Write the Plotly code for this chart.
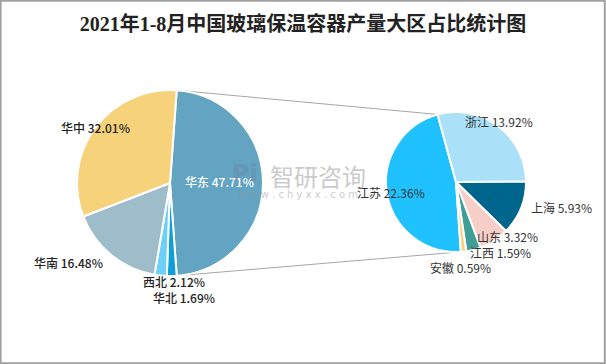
import math
import plotly.graph_objects as go

W, H = 606, 364

title = "2021年1-8月中国玻璃保温容器产量大区占比统计图"

main_labels = ["华东", "华北", "西北", "华南", "华中"]
main_values = [47.71, 1.69, 2.12, 16.48, 32.01]
main_colors = ["#62A4C2", "#0E9FD9", "#6DD0F7", "#9EBCCA", "#F6D27B"]

sub_labels = ["江苏", "浙江", "上海", "山东", "江西", "安徽"]
sub_values = [22.36, 13.92, 5.93, 3.32, 1.59, 0.59]
sub_colors = ["#1FC2FE", "#AAE1F9", "#00658C", "#F7CFC8", "#3F9E97", "#F7D27C"]

# pie geometry in pixels (center x, center y, radius)
L_CX, L_CY, L_R = 170, 183, 93
R_CX, R_CY, R_R = 456, 182, 70

total = sum(main_values)
rot_main = 90 - main_values[0] / total * 180
rot_sub = 176


def dom(cx, cy, r):
    return dict(x=[(cx - r) / W, (cx + r) / W], y=[1 - (cy + r) / H, 1 - (cy - r) / H])


fig = go.Figure()
fig.add_trace(go.Pie(
    labels=main_labels, values=main_values, sort=False, direction="clockwise",
    rotation=rot_main, textinfo="none", hoverinfo="label+percent",
    marker=dict(colors=main_colors, line=dict(color="white", width=2)),
    domain=dom(L_CX, L_CY, L_R), showlegend=False,
))
fig.add_trace(go.Pie(
    labels=sub_labels, values=sub_values, sort=False, direction="clockwise",
    rotation=rot_sub, textinfo="none", hoverinfo="label+value",
    marker=dict(colors=sub_colors, line=dict(color="white", width=2)),
    domain=dom(R_CX, R_CY, R_R), showlegend=False,
))


def pt(cx, cy, r, ang):
    a = math.radians(ang)
    return cx + r * math.sin(a), cy - r * math.cos(a)


# connector lines
l_top = pt(L_CX, L_CY, L_R, rot_main)
l_bot = pt(L_CX, L_CY, L_R, rot_main + main_values[0] / total * 360)
sub_total = sum(sub_values)
r_bot = pt(R_CX, R_CY, R_R, rot_sub)
r_top = pt(R_CX, R_CY, R_R, rot_sub + sub_values[0] / sub_total * 360)

shapes = []
for a, b in [(l_top, r_top), (l_bot, r_bot)]:
    shapes.append(dict(type="line", xref="paper", yref="paper",
                       x0=a[0] / W, y0=1 - a[1] / H, x1=b[0] / W, y1=1 - b[1] / H,
                       line=dict(color="#A6A6A6", width=1), layer="below"))
# outer border
shapes.append(dict(type="rect", xref="paper", yref="paper", x0=0.001, y0=0.002, x1=0.998, y1=0.998,
                   line=dict(color="#A0A0A0", width=2)))

CJK = "Noto Sans CJK SC"
annotations = []


def ann(text, x, y, font):
    return dict(text=text, x=x / W, y=1 - y / H, xref="paper", yref="paper",
                xanchor="center", yanchor="middle", showarrow=False, font=font)


# watermark
annotations.append(ann("智研咨询", 318, 175, dict(family=CJK, size=24, color="rgba(150,150,150,0.5)")))
annotations.append(ann("w w w . c h y x x . c o m", 298, 194,
                       dict(family="DejaVu Sans", size=10, color="rgba(150,150,150,0.5)")))
annotations.append(ann("<b>Pi</b>", 245, 174, dict(family="DejaVu Sans", size=24, color="rgba(110,130,160,0.4)")))

main_pos = [(219, 181), (184, 297), (174, 281), (68, 262), (95, 127)]
for lab, val, (x, y) in zip(main_labels, main_values, main_pos):
    col = "white" if lab == "华东" else "#222222"
    annotations.append(ann(f"{lab} {val:.2f}%", x, y, dict(family=CJK, size=12, color=col, weight=500)))

sub_pos = [(391, 192), (499, 122), (561, 207), (507, 236), (500, 252), (460, 267)]
for lab, val, (x, y) in zip(sub_labels, sub_values, sub_pos):
    annotations.append(ann(f"{lab} {val:.2f}%", x, y, dict(family=CJK, size=12, color="#333333")))

fig.update_layout(
    width=W, height=H, margin=dict(l=0, r=0, t=0, b=0),
    paper_bgcolor="white", plot_bgcolor="white",
    title=dict(text=f"<b>{title}</b>", x=0.5, xanchor="center", y=1 - 24 / H, yanchor="middle",
               font=dict(family="Liberation Serif, " + CJK, size=20, color="#222222")),
    shapes=shapes, annotations=annotations,
)

fig.write_html("out.html", config={"displayModeBar": False},
               post_script="document.body.style.margin='0';document.body.style.overflow='hidden';")
